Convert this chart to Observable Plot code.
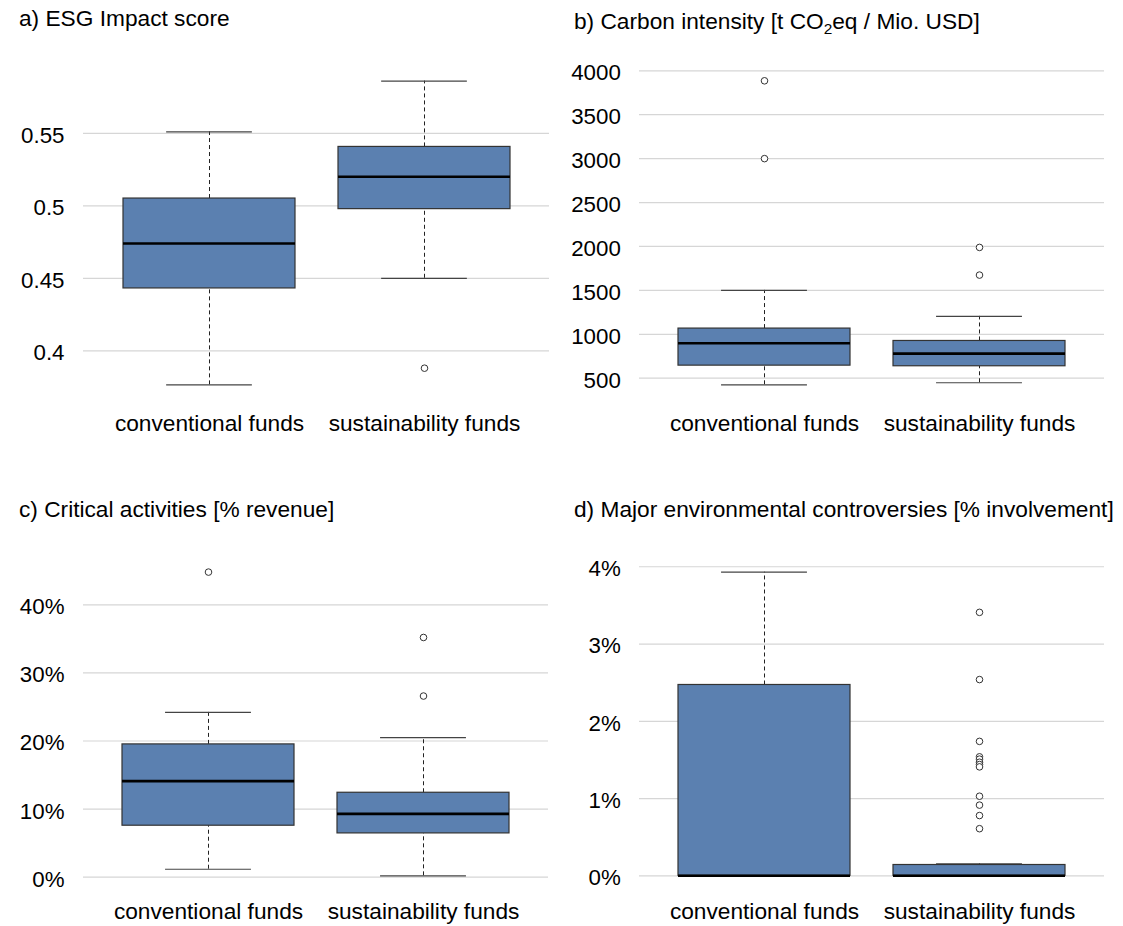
<!DOCTYPE html>
<html>
<head>
<meta charset="utf-8">
<script src="https://cdn.jsdelivr.net/npm/d3@7"></script>
<script src="https://cdn.jsdelivr.net/npm/@observablehq/plot@0.6"></script>
<style>
  html, body { margin: 0; padding: 0; background: #fff; }
  #page { position: relative; width: 1123px; height: 926px; overflow: hidden; background: #fff;
          font-family: "Liberation Sans", Arial, sans-serif; color: #000; }
  .title { position: absolute; font-size: 22.7px; line-height: 22.7px; white-space: nowrap; }
  .title sub { font-size: 0.68em; vertical-align: -0.32em; line-height: 0; }
  .cell { position: absolute; }
  .cell svg { overflow: visible; }
</style>
</head>
<body>
<div id="page"></div>
<script>
// ---------- data ----------
const categories = ["conventional funds", "sustainability funds"];

// a) ESG Impact score
const esgLow     = [0.3765, 0.450];
const esgQ1      = [0.443, 0.4977];
const esgMedian  = [0.474, 0.520];
const esgQ3      = [0.505, 0.5406];
const esgHigh    = [0.551, 0.586];
const esgOutliers = [[], [0.388]];
const esgTicks   = [0.4, 0.45, 0.5, 0.55];

// b) Carbon intensity
const carbonLow     = [425, 448];
const carbonQ1      = [643, 636];
const carbonMedian  = [898, 780];
const carbonQ3      = [1065, 924];
const carbonHigh    = [1500, 1204];
const carbonOutliers = [[3886, 3000], [1989, 1674]];
const carbonTicks   = [500, 1000, 1500, 2000, 2500, 3000, 3500, 4000];

// c) Critical activities [% revenue]
const critLow     = [1.17, 0.2];
const critQ1      = [7.56, 6.43];
const critMedian  = [14.1, 9.3];
const critQ3      = [19.5, 12.4];
const critHigh    = [24.2, 20.5];
const critOutliers = [[44.8], [35.2, 26.6]];
const critTicks   = [0, 10, 20, 30, 40];

// d) Major environmental controversies [% involvement]
const contLow     = [0, 0];
const contQ1      = [0, 0];
const contMedian  = [0, 0];
const contQ3      = [2.47, 0.14];
const contHigh    = [3.93, 0.155];
const contOutliers = [[], [3.41, 2.54, 1.74, 1.54, 1.51, 1.47, 1.44, 1.41, 1.03, 0.915, 0.78, 0.61]];
const contTicks   = [0, 1, 2, 3, 4];

// ---------- helpers ----------
function boxTable(low, q1, med, q3, high) {
  return categories.map((c, i) => ({cat: c, low: low[i], q1: q1[i], med: med[i], q3: q3[i], high: high[i]}));
}
function outlierTable(out) {
  return categories.flatMap((c, i) => out[i].map(v => ({cat: c, v})));
}

const FILL = "#5b80b0";
const FONT = "'Liberation Sans', Arial, sans-serif";

function panel({left, top, width, height, marginLeft, marginRight, marginTop, marginBottom,
                yDomain, ticks, tickFormat, tickPadding, xPadding, boxes, outliers}) {
  const bw = (width - marginLeft - marginRight) / (2 - 0.2 + 2 * 0.18) * 0.8;
  const chart = Plot.plot({
    width, height, marginLeft, marginRight, marginTop, marginBottom,
    style: {fontFamily: FONT, fontSize: "22.5px", color: "#000", background: "transparent", overflow: "visible"},
    x: {type: "band", domain: categories, paddingInner: 0.2, paddingOuter: 0.18, align: 0.5, label: null},
    y: {domain: yDomain, label: null},
    marks: [
      Plot.ruleY(ticks, {stroke: "#d6d6d6", strokeWidth: 1.2}),
      // whiskers
      Plot.ruleX(boxes, {x: "cat", y1: "q3", y2: "high", stroke: "#222", strokeWidth: 1, strokeDasharray: "4,3"}),
      Plot.ruleX(boxes, {x: "cat", y1: "low", y2: "q1", stroke: "#222", strokeWidth: 1, strokeDasharray: "4,3"}),
      // caps
      Plot.tickY(boxes, {x: "cat", y: "high", stroke: "#444", strokeWidth: 1.2, insetLeft: bw / 4, insetRight: bw / 4}),
      Plot.tickY(boxes, {x: "cat", y: "low", stroke: "#444", strokeWidth: 1.2, insetLeft: bw / 4, insetRight: bw / 4}),
      // boxes
      Plot.barY(boxes, {x: "cat", y1: "q1", y2: "q3", fill: FILL, stroke: "#333", strokeWidth: 1.2}),
      // medians
      Plot.tickY(boxes, {x: "cat", y: "med", stroke: "#000", strokeWidth: 2.6}),
      // outliers
      Plot.dot(outliers, {x: "cat", y: "v", r: 3.3, stroke: "#333", strokeWidth: 1, fill: "white"}),
      Plot.axisX({tickSize: 0, tickPadding: xPadding, label: null, fontSize: 22.7}),
      Plot.axisY({ticks, tickFormat, tickSize: 0, tickPadding, label: null, dy: 2.3, fontSize: 22.3})
    ]
  });
  const cell = document.createElement("div");
  cell.className = "cell";
  cell.style.left = left + "px";
  cell.style.top = top + "px";
  cell.appendChild(chart);
  document.getElementById("page").appendChild(cell);
}

function title(html, left, top) {
  const t = document.createElement("div");
  t.className = "title";
  t.style.left = left + "px";
  t.style.top = top + "px";
  t.innerHTML = html;
  document.getElementById("page").appendChild(t);
}

// ---------- panels ----------
panel({left: 0, top: 0, width: 560, height: 460, marginLeft: 83, marginRight: 11, marginTop: 60, marginBottom: 60,
  yDomain: [0.36572, 0.6002], ticks: esgTicks, tickFormat: d => String(d), tickPadding: 19, xPadding: 14,
  boxes: boxTable(esgLow, esgQ1, esgMedian, esgQ3, esgHigh), outliers: outlierTable(esgOutliers)});

panel({left: 560, top: 0, width: 563, height: 460, marginLeft: 79, marginRight: 19, marginTop: 60, marginBottom: 60,
  yDomain: [246.1, 4117.3], ticks: carbonTicks, tickFormat: d => String(d), tickPadding: 18.7, xPadding: 14,
  boxes: boxTable(carbonLow, carbonQ1, carbonMedian, carbonQ3, carbonHigh), outliers: outlierTable(carbonOutliers)});

panel({left: 0, top: 480, width: 560, height: 446, marginLeft: 83, marginRight: 12, marginTop: 60, marginBottom: 35,
  yDomain: [-2.1, 49.44], ticks: critTicks, tickFormat: d => d + "%", tickPadding: 19, xPadding: 11.5,
  boxes: boxTable(critLow, critQ1, critMedian, critQ3, critHigh), outliers: outlierTable(critOutliers)});

panel({left: 560, top: 480, width: 563, height: 446, marginLeft: 79, marginRight: 19, marginTop: 60, marginBottom: 35,
  yDomain: [-0.203, 4.34], ticks: contTicks, tickFormat: d => d + "%", tickPadding: 18.7, xPadding: 11.5,
  boxes: boxTable(contLow, contQ1, contMedian, contQ3, contHigh), outliers: outlierTable(contOutliers)});

title("a) ESG Impact score", 19, 6.8);
title("b) Carbon intensity [t CO<sub>2</sub>eq / Mio. USD]", 574, 9.8);
title("c) Critical activities [% revenue]", 19, 497.5);
title("d) Major environmental controversies [% involvement]", 574, 498);
</script>
</body>
</html>
